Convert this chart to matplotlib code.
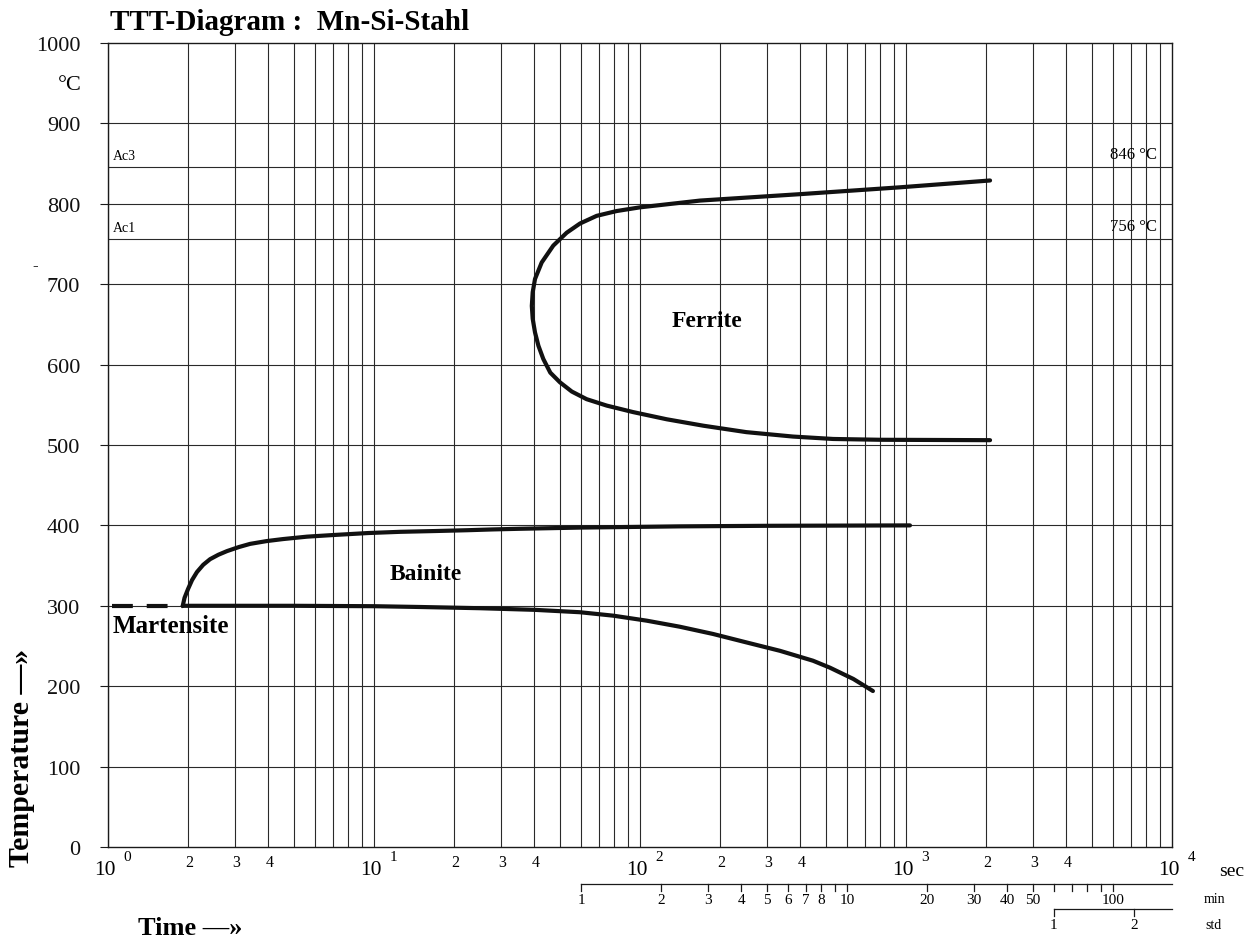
import numpy as np
import matplotlib
matplotlib.use("Agg")
import matplotlib.pyplot as plt

plt.rcParams['font.family'] = ['Liberation Serif', 'DejaVu Serif']
plt.rcParams['lines.scale_dashes'] = False

# ---- data -------------------------------------------------------------
title = "TTT-Diagram :  Mn-Si-Stahl"
temp_ticks = [0, 100, 200, 300, 400, 500, 600, 700, 800, 900, 1000]

ac3_temp = 846
ac1_temp = 756

# ferrite C-curve: start of transformation (time s, temperature °C)
ferrite_time = [2070, 949, 400, 168, 100, 81.7, 68.7, 59.5, 53, 47.2, 42.7,
                40.3, 39.5, 39.2, 39.5, 40.3, 41.5, 43.3, 46, 50, 55.4, 63,
                75, 94, 126, 173, 251, 376, 532, 800, 2070]
ferrite_temp = [829, 820.5, 812, 804, 795.6, 791, 785, 775.5, 764, 748, 727,
                706.5, 690, 673, 657, 640, 623.5, 607, 590, 578, 566.5, 557,
                549, 541, 532, 524, 516, 510.5, 507.5, 506.5, 506]

# bainite region boundaries
bainite_upper_time = [1.91, 1.94, 2.0, 2.07, 2.16, 2.28, 2.42, 2.6, 2.8, 3.1,
                      3.42, 3.95, 4.55, 5.6, 7.0, 9.5, 12.5, 17, 22.4, 28,
                      35.4, 60, 141, 300, 1035]
bainite_upper_temp = [300, 310, 321, 332, 342, 351, 358, 363.5, 368, 373,
                      377, 380.5, 383, 386, 388, 390.5, 392, 393, 394, 395,
                      395.8, 397.3, 398.8, 399.5, 400]
bainite_lower_time = [1.91, 5, 10, 15, 25, 40, 59.5, 79.4, 106, 141, 188,
                      251, 336, 447, 518, 634, 751]
bainite_lower_temp = [300, 300, 299.5, 298.5, 297, 295, 292, 287.7, 281.5, 274, 265,
                      254.5, 244, 231.7, 223, 209, 194]

# martensite start
ms_time = [1.035, 1.91]
ms_temp = [300, 300]

# secondary time scales
minute_ticks = [1, 2, 3, 4, 5, 6, 7, 8, 9, 10, 20, 30, 40, 50, 60, 70, 80, 90, 100]
minute_labels = ["1", "2", "3", "4", "5", "6", "7", "8", "", "10", "20", "30",
                 "40", "50", "", "", "", "", "100"]
hour_ticks = [1, 2]
hour_labels = ["1", "2"]

# ---- figure -----------------------------------------------------------
W, H = 1247, 945
fig = plt.figure(figsize=(W / 100, H / 100), dpi=100)
x0, x1, y0, y1 = 108, 1172, 44, 848
ax = fig.add_axes([x0 / W, (H - y1) / H, (x1 - x0) / W, (y1 - y0) / H])
ax.set_xscale('log')
ax.set_xlim(1, 1e4)
ax.set_ylim(0, 1000)

gridc = '#2a2a2a'
for d in range(4):
    for m in range(1, 10):
        ax.axvline(m * 10 ** d, color=gridc, lw=0.8, zorder=1)
for t in temp_ticks[1:-1]:
    ax.axhline(t, color=gridc, lw=0.8, zorder=1)
for t in (ac3_temp, ac1_temp):
    ax.axhline(t, color=gridc, lw=0.8, zorder=1)

for s in ax.spines.values():
    s.set_linewidth(1.0)
    s.set_color('#1a1a1a')

ax.set_yticks(temp_ticks)
ax.set_yticklabels([str(t) for t in temp_ticks], fontsize=16)
ax.tick_params(axis='y', direction='out', length=6, width=0.8, pad=14, colors='#1a1a1a')
ax.tick_params(axis='y', labelcolor='#111111')
ax.set_xticks([])
ax.minorticks_off()
ax.set_xticks([], minor=True)

# ---- curves -----------------------------------------------------------
lw = 3.0
style = dict(color='#111111', lw=lw, solid_capstyle='round',
             solid_joinstyle='round', zorder=3)
ax.plot(ferrite_time, ferrite_temp, **style)
ax.plot(bainite_upper_time, bainite_upper_temp, **style)
ax.plot(bainite_lower_time, bainite_lower_temp, **style)
ax.plot(ms_time, ms_temp, color='#111111', lw=lw, dashes=(15, 10),
        dash_capstyle='butt', zorder=3)

# ---- labels inside the plot --------------------------------------------
ax.text(1.04, ac3_temp + 6, "Ac3", fontsize=10, va='bottom', ha='left')
ax.text(1.04, ac1_temp + 6, "Ac1", fontsize=10, va='bottom', ha='left')
ax.text(8800, ac3_temp + 6, "846 °C", fontsize=12, va='bottom', ha='right')
ax.text(8800, ac1_temp + 6, "756 °C", fontsize=12, va='bottom', ha='right')

ax.text(178, 655, "Ferrite", fontsize=17, fontweight='bold', ha='center', va='center')
ax.text(15.7, 340, "Bainite", fontsize=17, fontweight='bold', ha='center', va='center')
ax.text(1.04, 275, "Martensite", fontsize=18, fontweight='bold', ha='left', va='center')

# ---- figure-level text -------------------------------------------------
def fx(px):
    return px / W

def fy(py):
    return 1 - py / H

fig.text(fx(110), fy(22), title, fontsize=21, fontweight='bold', ha='left', va='center')
fig.text(fx(82), fy(85), "°C", fontsize=16, ha='right', va='center')
fig.text(fx(35), fy(266), "-", fontsize=12, ha='center', va='center')
fig.text(fx(22), fy(758), "Temperature —»", fontsize=21.5, fontweight='bold',
         rotation=90, ha='center', va='center')
fig.text(fx(138), fy(929), "Time —»", fontsize=19, fontweight='bold', ha='left', va='center')

# ---- seconds scale labels ----------------------------------------------
xt = ax.get_xaxis_transform()
for d in range(5):
    ax.annotate("10", xy=(10 ** d, 0), xycoords=xt, xytext=(-2, -16),
                textcoords='offset points', fontsize=15.5, ha='center', va='center')
    ax.annotate(str(d), xy=(10 ** d, 0), xycoords=xt, xytext=(14, -7),
                textcoords='offset points', fontsize=11, ha='center', va='center')
    if d < 4:
        for m in (2, 3, 4):
            ax.annotate(str(m), xy=(m * 10 ** d, 0), xycoords=xt, xytext=(1, -11),
                        textcoords='offset points', fontsize=11.5, ha='center', va='center')
fig.text(fx(1232), fy(872), "sec", fontsize=14, ha='center', va='center')

# ---- minutes scale ------------------------------------------------------
ymin_line = (y1 - 885) / (y1 - y0)
tick_len = 7 / (y1 - y0)
ax.plot([minute_ticks[0] * 60, 1e4], [ymin_line, ymin_line], transform=xt,
        color='#1a1a1a', lw=0.9, clip_on=False)
for m, lab in zip(minute_ticks, minute_labels):
    ax.plot([m * 60, m * 60], [ymin_line, ymin_line - tick_len], transform=xt,
            color='#1a1a1a', lw=0.9, clip_on=False)
    if lab:
        ax.annotate(lab, xy=(m * 60, ymin_line), xycoords=xt, xytext=(0, -11),
                    textcoords='offset points', fontsize=11, ha='center', va='center')
fig.text(fx(1215), fy(900), "min", fontsize=10, ha='center', va='center')

# ---- hours scale --------------------------------------------------------
yh_line = (y1 - 910) / (y1 - y0)
ax.plot([hour_ticks[0] * 3600, 1e4], [yh_line, yh_line], transform=xt,
        color='#1a1a1a', lw=0.9, clip_on=False)
for h, lab in zip(hour_ticks, hour_labels):
    ax.plot([h * 3600, h * 3600], [yh_line, yh_line - tick_len], transform=xt,
            color='#1a1a1a', lw=0.9, clip_on=False)
    ax.annotate(lab, xy=(h * 3600, yh_line), xycoords=xt, xytext=(0, -11),
                textcoords='offset points', fontsize=11, ha='center', va='center')
fig.text(fx(1213), fy(926), "std", fontsize=10, ha='center', va='center')

fig.savefig("out.png", dpi=100, facecolor='white')
